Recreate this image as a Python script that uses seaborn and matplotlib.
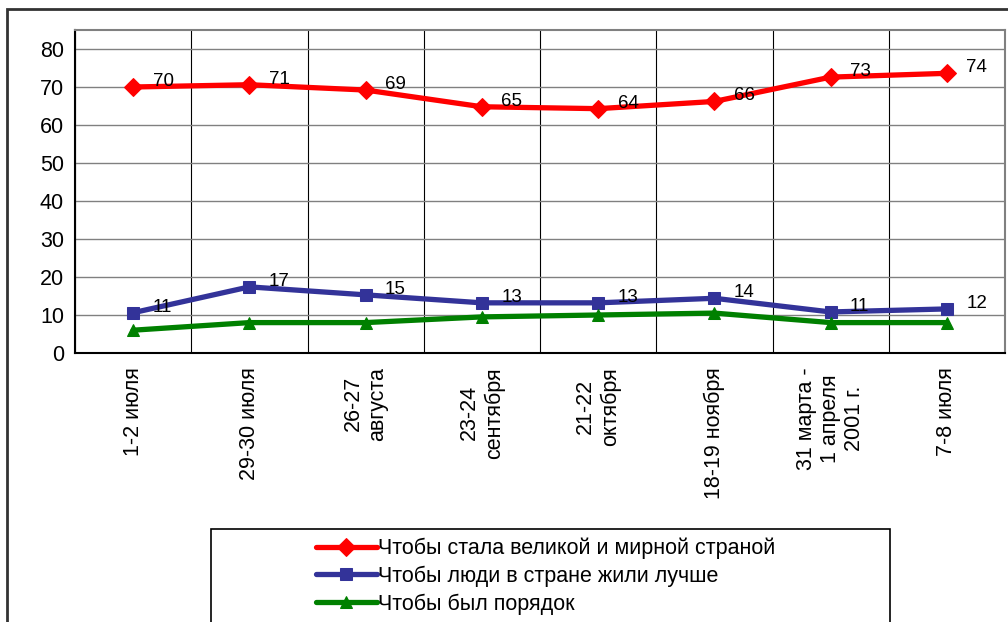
import seaborn as sns
import matplotlib.pyplot as plt
from matplotlib.patches import Rectangle

dates = ["1-2 июля", "29-30 июля", "26-27\nавгуста", "23-24\nсентября",
         "21-22\nоктября", "18-19 ноября", "31 марта -\n1 апреля\n2001 г.", "7-8 июля"]
great_country = [70, 70.6, 69.2, 64.8, 64.3, 66.2, 72.6, 73.6]
live_better = [10.6, 17.4, 15.3, 13.2, 13.2, 14.4, 10.8, 11.6]
order = [6, 8, 8, 9.5, 10, 10.5, 8, 8]

names = ["Чтобы стала великой и мирной страной",
         "Чтобы люди в стране жили лучше",
         "Чтобы был порядок"]
colors = ["#ff0000", "#333399", "#008000"]
markers = ["D", "s", "^"]
msizes = [11, 13, 13]

sns.set_style("white")
plt.rcParams["font.family"] = ["Liberation Sans", "DejaVu Sans"]
plt.rcParams["text.color"] = "black"

fig = plt.figure(figsize=(10.08, 6.22), dpi=100)
ax = fig.add_axes([75 / 1008, 1 - 353 / 622, 930 / 1008, 323 / 622])

series = [great_country, live_better, order]
for vals, name, c, m, ms in zip(series, names, colors, markers, msizes):
    sns.lineplot(x=dates, y=vals, ax=ax, color=c, marker=m, markersize=ms,
                 markeredgecolor=c, linewidth=3.8, label=name, sort=False)

# data labels for the first two series
for vals in series[:2]:
    for i, v in enumerate(vals):
        ax.annotate(f"{v:.0f}", (i, v), xytext=(14, 4), textcoords="offset points",
                    ha="left", va="center", fontsize=13.5, color="black")

ax.set_ylim(0, 85)
ax.set_xlim(-0.5, len(dates) - 0.5)
ax.set_yticks(range(0, 90, 10))
ax.set_xticks(range(len(dates)))
ax.set_xticklabels(dates, rotation=90, va="top", ha="center",
                   multialignment="center", fontsize=15.5)
ax.set_xticks([i - 0.5 for i in range(len(dates) + 1)], minor=True)
ax.tick_params(axis="x", which="major", length=0, pad=10, labelcolor="black")
ax.tick_params(axis="x", which="minor", length=5, width=1, color="black", direction="out")
ax.tick_params(axis="y", length=5, width=1, color="black", direction="out",
               labelsize=15.5, pad=3, labelcolor="black")

ax.grid(axis="y", color="#808080", linewidth=1)
ax.grid(axis="x", which="minor", color="black", linewidth=0.8)
ax.grid(axis="x", which="major", visible=False)
ax.set_axisbelow(True)
for side in ["top", "right"]:
    ax.spines[side].set_color("#808080")
    ax.spines[side].set_linewidth(1.5)
for side in ["left", "bottom"]:
    ax.spines[side].set_color("black")
    ax.spines[side].set_linewidth(1.5)
ax.set_xlabel("")
ax.set_ylabel("")

ax.legend_.remove()
handles, labels = ax.get_legend_handles_labels()
for h in handles:
    h.set_markersize(9)
fig.legend(handles, labels, loc="upper left", bbox_to_anchor=(305 / 1008, 1 - 527 / 622),
           frameon=False, fontsize=15.5, handlelength=2.85, handletextpad=0.05,
           labelspacing=0.3, borderpad=0)

# outer chart frame and legend box
fig.patches.append(Rectangle((7 / 1008, -0.1), 1.1, 1.1 - 9 / 622, transform=fig.transFigure,
                             fill=False, edgecolor="#333333", linewidth=2))
fig.patches.append(Rectangle((211 / 1008, -0.1), 679 / 1008, 0.1 + 1 - 529 / 622,
                             transform=fig.transFigure, fill=False,
                             edgecolor="black", linewidth=1.2))

fig.savefig("out.png", dpi=100)
